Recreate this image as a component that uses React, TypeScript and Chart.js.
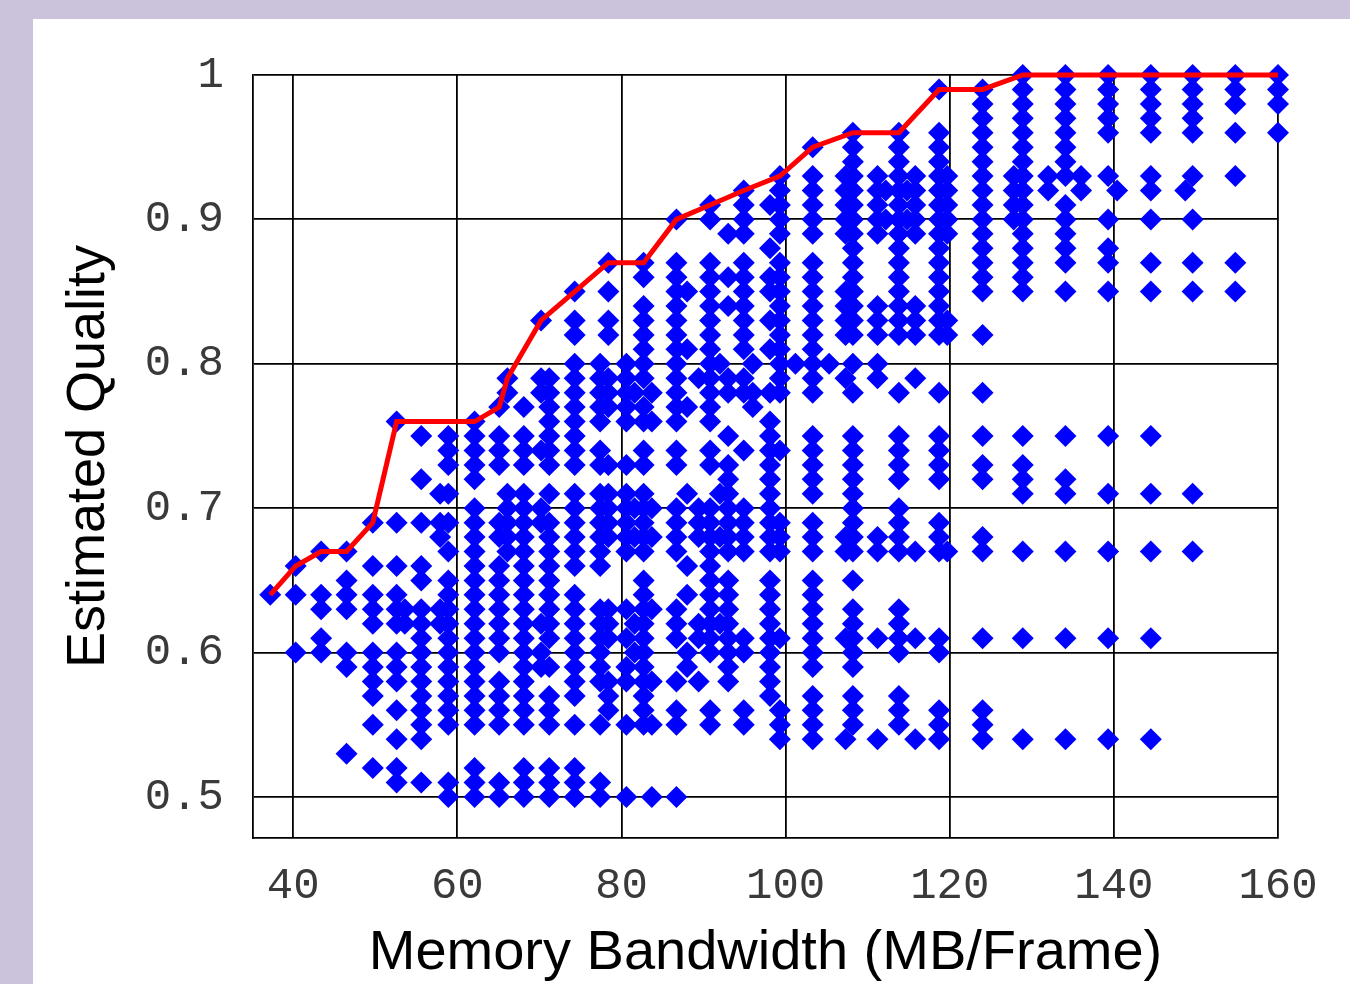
import React, { useEffect, useRef } from "react";
import { Chart, registerables } from "chart.js";

Chart.register(...registerables);

// axis ticks
const xTicks = [40, 60, 80, 100, 120, 140, 160];
const yTicks = [0.5, 0.6, 0.7, 0.8, 0.9, 1];

// scatter columns: x position (MB/Frame) and the quality values (in hundredths) found in that column
const colX = [
  37.2, 40.3, 43.4, 46.5, 49.7, 52.6, 53.6, 55.6, 57.9, 58.9,
  62.1, 65.1, 66.1, 68.1, 70.2, 71.2, 74.3, 77.4, 78.4, 80.6,
  81.6, 82.7, 83.7, 86.7, 88.0, 89.4, 90.8, 92.0, 93.0, 94.9,
  96.0, 98.1, 99.3, 101.2, 103.3, 105.3, 107.3, 108.2, 111.2, 112.2,
  113.8, 114.8, 115.8, 118.7, 119.7, 124.0, 127.8, 128.9, 132.0, 134.1,
  136.0, 139.3, 140.4, 144.5, 148.7, 149.6, 154.8, 160,
];

const colY = [
  [64],
  [66, 64, 60],
  [67, 64, 63, 61, 60],
  [67, 65, 64, 63, 60, 59, 53],
  [69, 66, 64, 63, 62, 60, 59, 58, 57, 55, 52],
  [76, 69, 66, 64, 63, 62, 60, 59, 58, 56, 54, 52, 51],
  [63, 62],
  [75, 72, 69, 66, 65, 63, 62, 61, 60, 59, 58, 57, 56, 55, 54, 51],
  [71, 69, 68, 63, 62],
  [75, 74, 73, 71, 69, 67, 65, 64, 63, 62, 61, 60, 59, 58, 57, 56, 55, 51, 50],
  [76, 75, 74, 73, 72, 70, 69, 68, 67, 66, 65, 64, 63, 62, 61, 60, 59, 58, 57, 56, 55, 52, 51, 50],
  [77, 75, 74, 73, 69, 68, 66, 65, 64, 63, 62, 61, 60, 58, 57, 56, 55, 51, 50],
  [79, 78, 71, 70, 69, 68, 67],
  [77, 75, 74, 73, 71, 70, 69, 68, 67, 66, 65, 64, 63, 62, 61, 60, 59, 58, 57, 56, 55, 52, 51, 50],
  [83, 79, 78, 74, 70, 69, 62, 60, 59],
  [79, 78, 77, 76, 75, 74, 73, 71, 69, 68, 67, 66, 65, 64, 63, 62, 61, 59, 57, 56, 55, 52, 51, 50],
  [85, 83, 82, 80, 79, 78, 77, 76, 75, 74, 73, 71, 70, 69, 68, 67, 66, 64, 63, 62, 61, 60, 59, 58, 57, 55, 52, 51, 50],
  [80, 79, 78, 77, 76, 74, 73, 71, 70, 69, 68, 67, 66, 63, 62, 61, 60, 59, 58, 55, 51, 50],
  [87, 85, 83, 82, 79, 78, 77, 73, 71, 70, 69, 68, 63, 62, 61, 58, 57, 56],
  [80, 79, 78, 77, 76, 73, 71, 70, 69, 68, 67, 63, 61, 59, 58, 55, 50],
  [78, 70, 68, 62, 60],
  [87, 86, 84, 83, 82, 81, 80, 79, 77, 76, 74, 73, 71, 70, 69, 68, 67, 65, 64, 63, 62, 61, 60, 59, 58, 57, 56, 55],
  [78, 76, 70, 68, 63, 58, 55, 50],
  [90, 87, 86, 85, 84, 83, 82, 81, 80, 79, 78, 77, 76, 74, 73, 70, 69, 68, 67, 63, 62, 61, 58, 56, 55, 50],
  [85, 81, 77, 71, 66, 64, 60, 59],
  [79, 70, 69, 68, 62, 61, 58],
  [91, 90, 87, 86, 85, 84, 83, 82, 81, 80, 79, 78, 77, 76, 74, 73, 70, 69, 68, 67, 66, 65, 64, 63, 62, 61, 60, 56, 55],
  [80, 71, 68, 62],
  [89, 86, 84, 79, 78, 75, 73, 72, 71, 70, 69, 68, 67, 65, 64, 63, 62, 61, 60, 59, 58],
  [92, 91, 90, 89, 87, 86, 85, 84, 83, 82, 81, 79, 78, 74, 70, 69, 68, 67, 61, 60, 56, 55],
  [80, 78, 77],
  [91, 88, 86, 85, 83, 81, 78, 76, 75, 74, 73, 72, 71, 70, 69, 68, 67, 65, 64, 63, 62, 61, 60, 59, 58, 57],
  [93, 92, 91, 90, 89, 87, 86, 85, 84, 83, 82, 81, 80, 79, 78, 74, 69, 68, 67, 61, 56, 55, 54],
  [80],
  [95, 93, 92, 91, 90, 89, 87, 86, 85, 84, 83, 82, 81, 80, 79, 78, 75, 74, 73, 72, 71, 69, 68, 67, 65, 64, 63, 62, 61, 60, 59, 57, 56, 55, 54],
  [80],
  [93, 92, 91, 90, 89, 85, 84, 83, 82, 79, 68, 67, 61, 54],
  [96, 95, 94, 93, 92, 91, 90, 89, 88, 87, 86, 85, 84, 83, 82, 80, 78, 75, 74, 73, 72, 71, 70, 69, 68, 67, 65, 63, 62, 61, 60, 59, 57, 56, 55],
  [93, 92, 91, 90, 89, 84, 83, 82, 80, 79, 68, 67, 61, 54],
  [92, 90],
  [96, 95, 94, 93, 92, 91, 90, 89, 88, 87, 86, 85, 84, 83, 82, 78, 75, 74, 73, 72, 70, 69, 68, 67, 63, 62, 61, 60, 57, 56, 55],
  [92, 90],
  [93, 92, 91, 90, 89, 84, 83, 82, 79, 67, 61, 54],
  [99, 96, 95, 94, 93, 92, 91, 90, 89, 88, 87, 86, 85, 84, 83, 82, 78, 75, 74, 73, 72, 69, 68, 67, 61, 60, 56, 55, 54],
  [93, 92, 91, 90, 89, 83, 82, 67],
  [99, 98, 97, 96, 95, 94, 93, 92, 91, 90, 89, 88, 87, 86, 85, 82, 78, 75, 73, 72, 68, 67, 61, 56, 55, 54],
  [93, 92, 91, 90],
  [100, 99, 98, 97, 96, 95, 94, 93, 92, 91, 90, 89, 88, 87, 86, 85, 75, 73, 72, 71, 67, 61, 54],
  [93, 92],
  [100, 99, 98, 97, 96, 95, 94, 93, 91, 90, 89, 88, 87, 85, 75, 72, 71, 67, 61, 54],
  [93, 92],
  [100, 99, 98, 97, 96, 93, 90, 88, 87, 85, 75, 71, 67, 61, 54],
  [92],
  [100, 99, 98, 97, 96, 93, 92, 90, 87, 85, 75, 71, 67, 61, 54],
  [92],
  [100, 99, 98, 97, 96, 93, 90, 87, 85, 71, 67],
  [100, 99, 98, 96, 93, 87, 85],
  [100, 99, 98, 96],
];

// best-quality frontier (red line)
const frontierX = [
  37.2, 40.3, 43.4, 46.5, 49.7, 52.6, 62.1, 65.1, 66.1, 70.2, 74.3, 78.4, 82.7, 86.7,
  90.8, 94.9, 99.3, 103.3, 108.2, 113.8, 118.7, 124.0, 128.9, 134.1, 139.3, 144.5, 149.6, 154.8, 160,
];
const frontierY = [
  0.64, 0.66, 0.67, 0.67, 0.69, 0.76, 0.76, 0.77, 0.79, 0.83, 0.85, 0.87, 0.87, 0.9,
  0.91, 0.92, 0.93, 0.95, 0.96, 0.96, 0.99, 0.99, 1, 1, 1, 1, 1, 1, 1,
];

const xTitle = "Memory Bandwidth (MB/Frame)";
const yTitle = "Estimated Quality";

export default function App() {
  const ref = useRef<HTMLCanvasElement>(null);

  useEffect(() => {
    const points: { x: number; y: number }[] = [];
    colX.forEach((x, i) => {
      colY[i].forEach((v) => points.push({ x, y: v / 100 }));
    });
    const line = frontierX.map((x, i) => ({ x, y: frontierY[i] }));

    const zeroPad = (s: any) => {
      s.paddingTop = 0;
      s.paddingBottom = 0;
      s.paddingLeft = 0;
      s.paddingRight = 0;
    };

    const chart = new Chart(ref.current as HTMLCanvasElement, {
      type: "scatter",
      data: {
        datasets: [
          {
            type: "line",
            data: line,
            borderColor: "#ff0000",
            borderWidth: 5,
            pointRadius: 0,
            fill: false,
            tension: 0,
            clip: false,
            order: 0,
          } as any,
          {
            type: "scatter",
            data: points,
            pointStyle: "rectRot",
            pointRadius: 11,
            pointHoverRadius: 11,
            backgroundColor: "#0000ff",
            borderColor: "#0000ff",
            borderWidth: 0,
            clip: false,
            order: 1,
          } as any,
        ],
      },
      options: {
        responsive: false,
        animation: false,
        events: [],
        layout: { padding: { left: 0, top: 75, right: 72, bottom: 0 } },
        plugins: { legend: { display: false }, tooltip: { enabled: false } },
        scales: {
          x: {
            type: "linear",
            min: 35.1,
            max: 160,
            afterBuildTicks: (s: any) => {
              s.ticks = xTicks.map((v) => ({ value: v }));
            },
            afterFit: (s: any) => {
              s.height = 146;
              zeroPad(s);
            },
            grid: { color: "#000", lineWidth: 1.8, drawTicks: false },
            border: { color: "#000", width: 1.8 },
            ticks: {
              color: "#3a3a3a",
              padding: 22,
              maxRotation: 0,
              font: { family: "'Liberation Mono', monospace", size: 44 },
              callback: (v: any) => String(v),
            },
            title: {
              display: true,
              text: xTitle,
              color: "#000",
              font: { family: "'Liberation Sans', Arial, sans-serif", size: 56, lineHeight: 1 },
              padding: { top: 0, bottom: 2 },
            },
          },
          y: {
            type: "linear",
            min: 0.4716,
            max: 1,
            afterBuildTicks: (s: any) => {
              s.ticks = yTicks.map((v) => ({ value: v }));
            },
            afterFit: (s: any) => {
              s.width = 253;
              zeroPad(s);
            },
            grid: { color: "#000", lineWidth: 1.8, drawTicks: false },
            border: { color: "#000", width: 1.8 },
            ticks: {
              color: "#3a3a3a",
              padding: 29,
              font: { family: "'Liberation Mono', monospace", size: 44 },
              callback: (v: any) => String(Math.round(v * 10) / 10),
            },
            title: {
              display: true,
              text: yTitle,
              color: "#000",
              font: { family: "'Liberation Sans', Arial, sans-serif", size: 54, lineHeight: 1 },
              padding: { top: 62, bottom: 0 },
            },
          },
        },
      },
    });
    return () => chart.destroy();
  }, []);

  return (
    <div
      style={{
        position: "fixed",
        left: 0,
        top: 0,
        width: 1350,
        height: 984,
        background: "#cbc3db",
        overflow: "hidden",
      }}
    >
      <div
        style={{
          position: "absolute",
          left: 33,
          top: 19,
          width: 1317,
          height: 965,
          background: "#ffffff",
        }}
      />
      <canvas
        ref={ref}
        width={1350}
        height={984}
        style={{ position: "absolute", left: 0, top: 0, width: 1350, height: 984 }}
      />
    </div>
  );
}
